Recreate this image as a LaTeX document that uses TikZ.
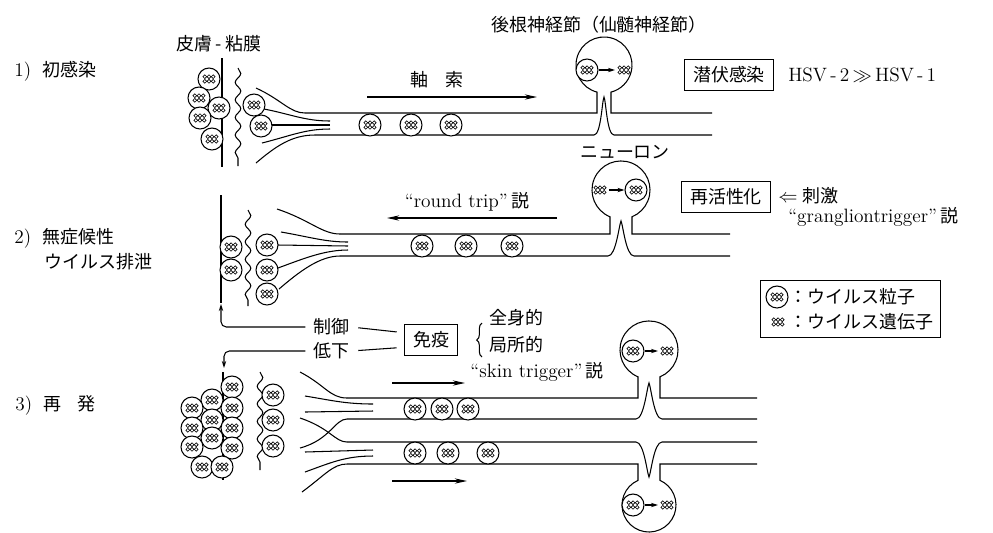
\documentclass[tikz,border=0pt]{standalone}
\usepackage{fontspec}
\newfontfamily\jp{Noto Sans CJK JP}[Scale=0.93]
\usetikzlibrary{arrows.meta,positioning,decorations.pathmorphing,decorations.pathreplacing,fit}

% three little loops over three: the viral genome
\newcommand\genemark[1]{%
  \foreach \gx in {-4.2,0,4.2}{%
    \draw[line width=0.35pt] ([shift={(\gx,-2.3)}]#1) circle[radius=1.9];
    \draw[line width=0.35pt] ([shift={(\gx,2.3)}]#1) circle[radius=1.9];}}

\begin{document}
\begin{tikzpicture}[x=0.02cm,y=-0.02cm,line width=0.6pt,
  every node/.style={inner sep=1pt,font=\fontsize{11}{13}\selectfont},
  jtxt/.style={font=\fontsize{11}{13}\selectfont\jp},
  virion/.style={circle,draw,fill=white,minimum size=0.44cm,inner sep=0pt,
    path picture={\genemark{path picture bounding box.center}}},
  genome/.style={minimum width=0.34cm,minimum height=0.26cm,inner sep=0pt,
    path picture={\genemark{path picture bounding box.center}}},
  stagebox/.style={draw,font=\fontsize{11}{13}\selectfont\jp,inner xsep=5pt,inner ysep=4pt},
  wave/.style={decorate,decoration={snake,amplitude=1.6pt,segment length=10pt}},
  flow/.style={-{Stealth[length=7pt,width=3pt]}},
  >={Stealth[length=4pt,width=2.5pt]}]
\useasboundingbox (0,0) rectangle (993,532);

% headings
\node[jtxt] (skin) at (219,44) {皮膚\,-\,粘膜};
\node[jtxt] (drg) at (599,25) {後根神経節（仙髄神経節）};

% 1) primary infection
\node[anchor=west] (st1) at (12,71) {1)\hspace{0.6em}{\jp 初感染}};
\draw (222,58) -- (222,167);
\draw[wave] (238,68) -- (238,166);
\draw (256,88) .. controls (282,100) and (290,113) .. (305,113);
\draw (264,109) .. controls (290,114) and (305,121) .. (330,121);
\draw (272,125) -- (330,125);
\draw (262,143) .. controls (290,136) and (305,129) .. (330,129);
\draw (256,163) .. controls (276,146) and (292,135) .. (315,135);
\draw (305,113) -- (597,113) -- (597,92.1) arc[start angle=104.48,end angle=435.52,radius=28] -- (611,113) -- (712,113);
\draw (315,135) -- (594,135) .. controls (601,135) and (602,101) .. (604,97) .. controls (606,101) and (607,135) .. (614,135) -- (712,135);
\foreach \px/\py [count=\k] in {209/79,199/98,219/108,200/118,212/139,254/105,261/126,370/125,411/125,451/125}
  \node[virion] (pa\k) at (\px,\py) {};
\node[virion] (n1v) at (587,70) {};
\node[genome] (n1g) at (624,70) {};
\draw[->] (n1v) -- (n1g);
\node[jtxt] (axlbl) at (437,80) {軸\hspace{0.9em}索};
\draw[flow] (367,97) -- (537,97);
\node[stagebox] (latent) at (729,75) {潜伏感染};
\node[anchor=west] (hsv) at (786,75) {HSV\,-\,2\,$\gg$\,HSV\,-\,1};
\node[jtxt] (nrn) at (625,152) {ニューロン};

% 2) asymptomatic shedding
\node[anchor=west] (st2) at (12,238) {2)\hspace{0.6em}{\jp 無症候性}};
\node[jtxt,anchor=west] (st2b) at (42,262) {ウイルス排泄};
\draw (221,195) -- (221,303);
\draw[wave] (248,210) -- (248,306);
\draw (277,209) .. controls (310,220) and (322,234) .. (340,234);
\draw (281,232) .. controls (310,237) and (325,242) .. (348,242);
\draw (278,245) -- (348,246);
\draw (278,268) .. controls (305,258) and (325,250) .. (348,250);
\draw (279,289) .. controls (300,271) and (320,256) .. (340,256);
\draw (340,234) -- (610,234) -- (610,216.8) arc[start angle=112.29,end angle=427.71,radius=29] -- (632,234) -- (730,234);
\draw (340,256) -- (608,256) .. controls (616,256) and (619,225) .. (621,221) .. controls (623,225) and (626,256) .. (634,256) -- (730,256);
\foreach \px/\py [count=\k] in {231/247,231/270,267/245,267/270,267/294,422/246,466/246,512/246}
  \node[virion] (pb\k) at (\px,\py) {};
\node[genome] (n2g) at (600,190) {};
\node[virion] (n2v) at (636,190) {};
\draw[->] (n2g) -- (n2v);
\node (rt) at (467,202) {``round trip''\,{\jp 説}};
\draw[flow] (557,218) -- (387,218);
\node[stagebox] (react) at (726,197) {再活性化};
\node[anchor=west] (stim) at (776,196) {$\Leftarrow$\;{\jp 刺激}};
\node[anchor=west] (gt) at (786,217) {``grangliontrigger''\,{\jp 説}};

% immunity
\node[jtxt] (ctl) at (331,327) {制御};
\node[jtxt] (dec) at (331,351) {低下};
\node[stagebox] (imm) at (431,340) {免疫};
\draw[shorten <=4pt,shorten >=4pt] (ctl.east) -- (imm.165);
\draw[shorten <=4pt,shorten >=4pt] (dec.east) -- (imm.195);
\coordinate (up) at (221,304);
\coordinate (down) at (224,368);
\draw[->,rounded corners=3pt,shorten <=3pt] (ctl.west) -| (up);
\draw[->,rounded corners=3pt,shorten <=3pt] (dec.west) -| (down);
\draw[decorate,decoration={brace,amplitude=3pt}] (482,357) -- (482,323);
\node[jtxt,anchor=west] (whole) at (487,318) {全身的};
\node[jtxt,anchor=west] (local) at (487,345) {局所的};

% legend
\node[virion] (lv) at (777,297) {};
\node[jtxt,anchor=west] (lvt) at (787,297) {：ウイルス粒子};
\node[genome] (lg) at (778,322) {};
\node[jtxt,anchor=west] (lgt) at (787,322) {：ウイルス遺伝子};
\node[draw,fit=(lv)(lvt)(lg)(lgt),inner sep=3pt] (legend) {};

% 3) recurrence
\node[anchor=west] (st3) at (13,405) {3)\hspace{0.6em}{\jp 再\hspace{0.9em}発}};
\draw (223,372) -- (223,480);
\draw[wave] (260,372) -- (260,470);
\draw (300,372) .. controls (325,385) and (330,398) .. (347,398);
\draw (305,396) .. controls (330,400) and (345,404) .. (373,404);
\draw (305,412) -- (373,411);
\draw (300,418) .. controls (330,428) and (335,442) .. (347,442);
\draw (300,448) .. controls (330,440) and (335,419) .. (347,419);
\draw (305,452) -- (373,450);
\draw (305,472) .. controls (330,463) and (345,456) .. (373,456);
\draw (302,492) .. controls (325,475) and (333,464) .. (347,464);
\draw (347,398) -- (638,398) -- (638,376.8) arc[start angle=112.29,end angle=427.71,radius=29] -- (660,398) -- (757,398);
\draw (347,419) -- (636,419) .. controls (644,419) and (647,387) .. (649,383) .. controls (651,387) and (654,419) .. (662,419) -- (757,419);
\draw (347,442) -- (636,442) .. controls (644,442) and (647,473) .. (649,477) .. controls (651,473) and (654,442) .. (662,442) -- (757,442);
\draw (347,464) -- (638,464) -- (638,480.35) arc[start angle=245.96,end angle=-65.96,radius=27] -- (660,464) -- (757,464);
\foreach \px/\py [count=\k] in {232/387,212/400,192/408,232/408,212/420,192/428,232/428,212/438,192/447,232/448,202/467,222/467,273/395,273/420,273/446,415/409,442/409,468/409,415/453,448/453,488/453}
  \node[virion] (pc\k) at (\px,\py) {};
\node[virion] (n3v) at (633,351) {};
\node[genome] (n3g) at (667,351) {};
\draw[->] (n3v) -- (n3g);
\node[virion] (n4v) at (633,505) {};
\node[genome] (n4g) at (667,505) {};
\draw[->] (n4v) -- (n4g);
\node (skt) at (537,372) {``skin trigger''\,{\jp 説}};
\draw[flow] (392,383) -- (465,383);
\draw[flow] (392,481) -- (467,481);
\end{tikzpicture}
\end{document}
